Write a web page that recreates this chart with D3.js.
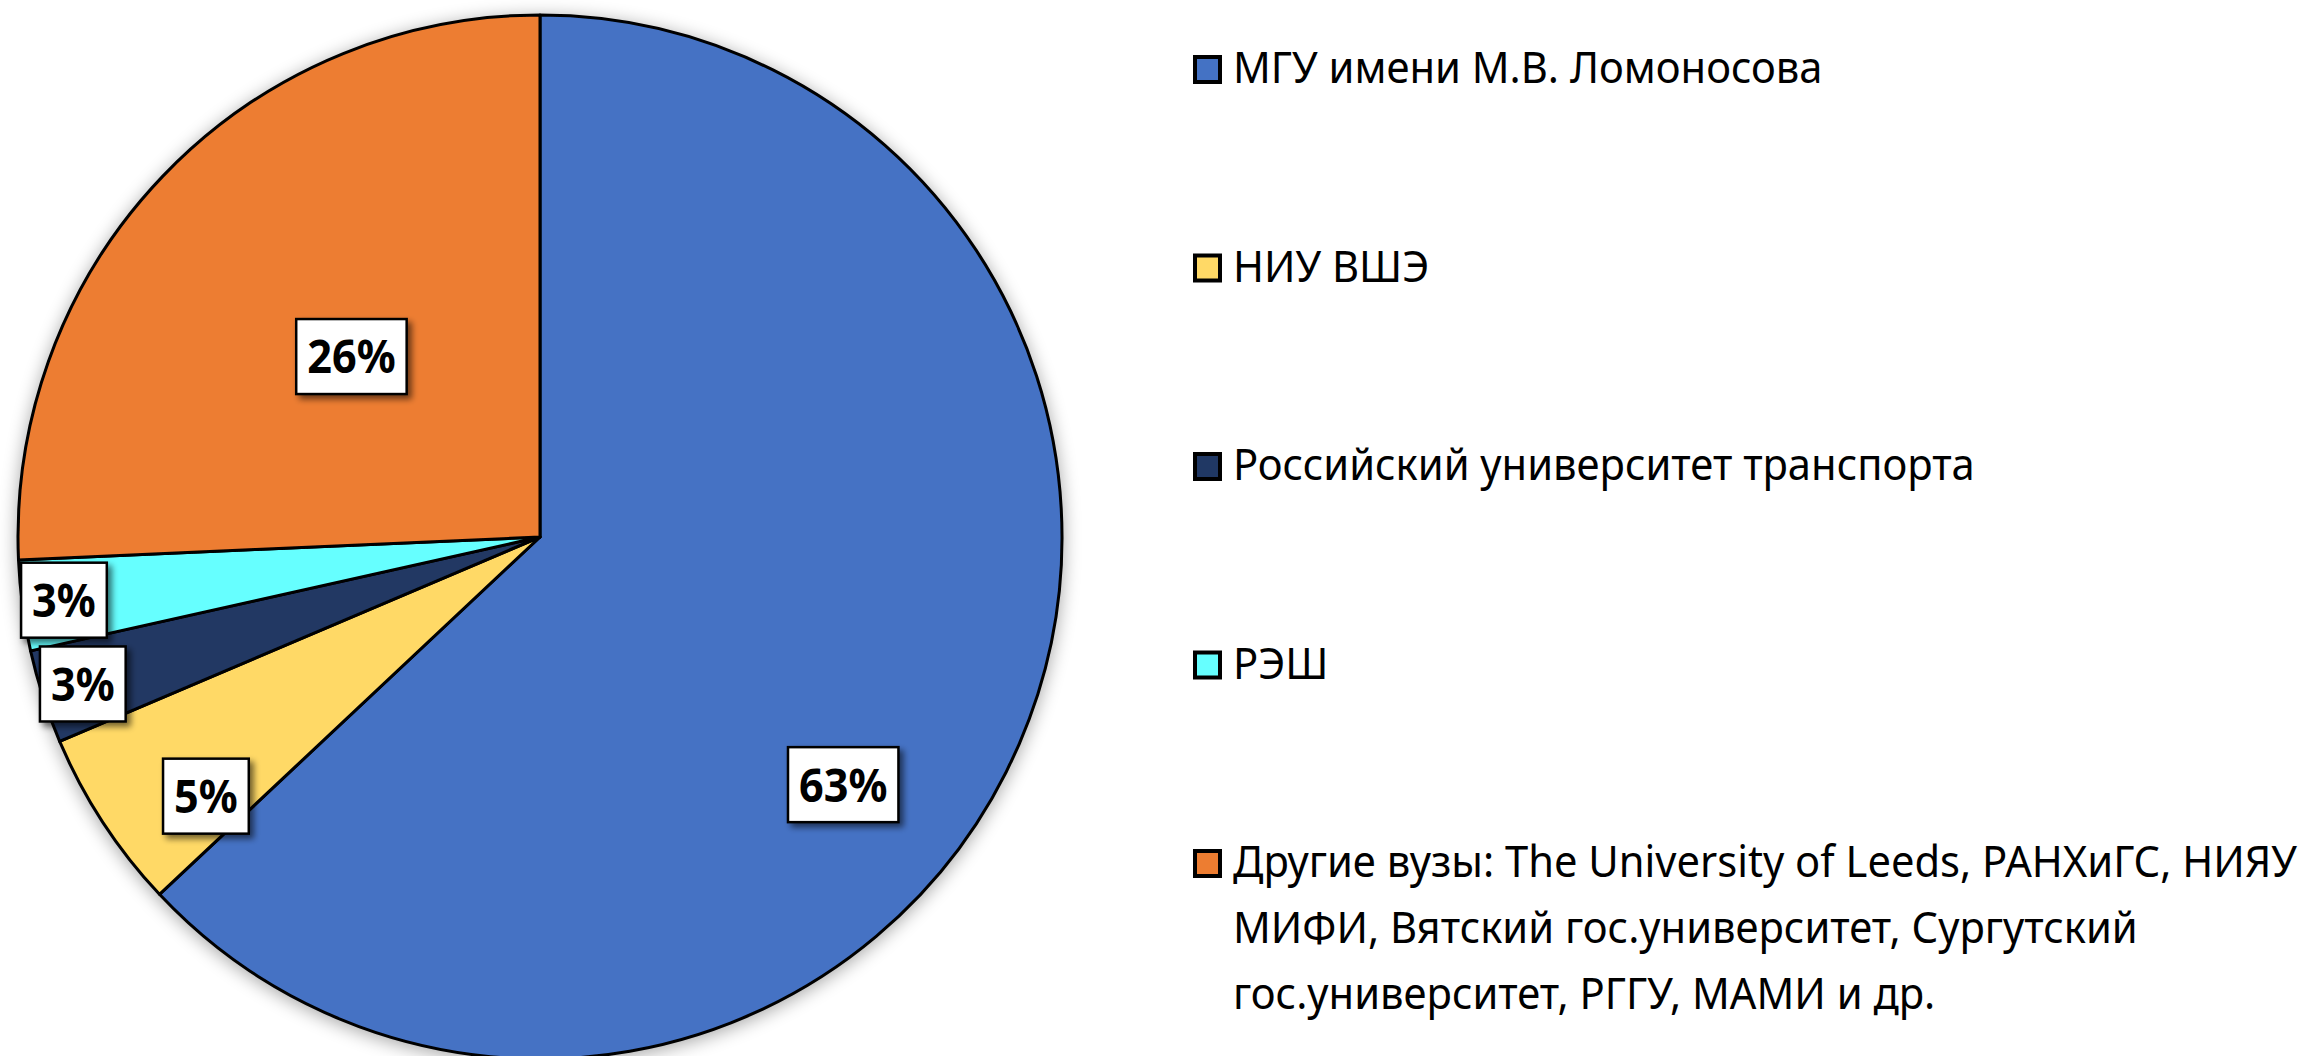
<!DOCTYPE html>
<html>
<head>
<meta charset="utf-8">
<script src="https://cdn.jsdelivr.net/npm/d3@7"></script>
<style>
  body { margin: 0; background: #fff; }
  svg { display: block; }
</style>
</head>
<body>
<div></div>
<script>
var width = 2300;
var height = 1056;

// slice data, clockwise from 12 o'clock
var names = ["МГУ имени М.В. Ломоносова",
             "НИУ ВШЭ",
             "Российский университет транспорта",
             "РЭШ",
             "Другие вузы: The University of Leeds, РАНХиГС, НИЯУ МИФИ, Вятский гос.университет, Сургутский гос.университет, РГГУ, МАМИ и др."];
var values = [63, 5.6, 2.9, 2.8, 25.7];
var labels = ["63%", "5%", "3%", "3%", "26%"];
var colors = ["#4472C4", "#FFD966", "#203864", "#66FFFF", "#ED7D31"];

// legend lines (last entry wraps)
var legendLines = [
  ["МГУ имени М.В. Ломоносова"],
  ["НИУ ВШЭ"],
  ["Российский университет транспорта"],
  ["РЭШ"],
  ["Другие вузы: The University of Leeds, РАНХиГС, НИЯУ",
   "МИФИ, Вятский гос.университет, Сургутский",
   "гос.университет, РГГУ, МАМИ и др."]
];

// label placement (fraction of radius, angle shift in turns) - excel "best fit"
var labelRadius = [0.75, 0.81, 0.92, 0.92, 0.5];
var labelShift = [0.044, -0.013, 0, 0, 0];

var cx = 540, cy = 537, radius = 522;
var fontFam = "'Noto Sans', 'Open Sans', sans-serif";

var svg = d3.select("div")
  .append("svg")
  .attr("width", width)
  .attr("height", height);

var defs = svg.append("defs");
var f1 = defs.append("filter").attr("id", "pieShadow")
  .attr("x", "-10%").attr("y", "-10%").attr("width", "120%").attr("height", "120%");
f1.append("feGaussianBlur").attr("in", "SourceAlpha").attr("stdDeviation", 9).attr("result", "b");
f1.append("feOffset").attr("in", "b").attr("dx", 0).attr("dy", 3).attr("result", "o");
f1.append("feComponentTransfer").attr("in", "o").attr("result", "s")
  .append("feFuncA").attr("type", "linear").attr("slope", 0.35);
var m1 = f1.append("feMerge");
m1.append("feMergeNode").attr("in", "s");
m1.append("feMergeNode").attr("in", "SourceGraphic");

var f2 = defs.append("filter").attr("id", "boxShadow")
  .attr("x", "-20%").attr("y", "-20%").attr("width", "150%").attr("height", "150%");
f2.append("feGaussianBlur").attr("in", "SourceAlpha").attr("stdDeviation", 3).attr("result", "b");
f2.append("feOffset").attr("in", "b").attr("dx", 4).attr("dy", 4).attr("result", "o");
f2.append("feComponentTransfer").attr("in", "o").attr("result", "s")
  .append("feFuncA").attr("type", "linear").attr("slope", 0.55);
var m2 = f2.append("feMerge");
m2.append("feMergeNode").attr("in", "s");
m2.append("feMergeNode").attr("in", "SourceGraphic");

var pie = d3.pie().sort(null).value(function(d) { return d; });
var arcs = pie(values);

var arc = d3.arc().innerRadius(0).outerRadius(radius);

var g = svg.append("g")
  .attr("transform", "translate(" + cx + "," + cy + ")");

var pieG = g.append("g").attr("filter", "url(#pieShadow)");
pieG.selectAll("path")
  .data(arcs)
  .enter().append("path")
  .attr("d", arc)
  .attr("fill", function(d, i) { return colors[i]; })
  .attr("stroke", "#000")
  .attr("stroke-width", 3)
  .attr("stroke-linejoin", "round");

// data labels
var lab = g.selectAll("g.lab")
  .data(arcs)
  .enter().append("g")
  .attr("class", "lab")
  .attr("transform", function(d, i) {
    var a = (d.startAngle + d.endAngle) / 2 + labelShift[i] * 2 * Math.PI;
    var r = radius * labelRadius[i];
    return "translate(" + (Math.sin(a) * r) + "," + (-Math.cos(a) * r) + ")";
  });

lab.each(function(d, i) {
  var sel = d3.select(this);
  var rect = sel.append("rect")
    .attr("fill", "#fff")
    .attr("stroke", "#000")
    .attr("stroke-width", 2.5)
    .attr("filter", "url(#boxShadow)");
  var t = sel.append("text")
    .attr("text-anchor", "middle")
    .attr("dy", "0.36em")
    .style("font-family", fontFam)
    .style("font-weight", "bold")
    .style("font-size", "47px")
    .attr("transform", "scale(0.92,1)")
    .text(labels[i]);
  var w = t.node().getComputedTextLength() * 0.92;
  var bw = w + 22, bh = 75;
  rect.attr("x", -bw / 2).attr("y", -bh / 2).attr("width", bw).attr("height", bh);
});

// legend
var legX = 1193, legY = 83, legStep = 198.5, lineStep = 66;
var leg = svg.append("g");
var items = leg.selectAll("g")
  .data(legendLines)
  .enter().append("g")
  .attr("transform", function(d, i) { return "translate(" + legX + "," + (legY + i * legStep) + ")"; });

items.append("rect")
  .attr("x", 2)
  .attr("y", -26)
  .attr("width", 25)
  .attr("height", 25)
  .attr("fill", function(d, i) { return colors[i]; })
  .attr("stroke", "#000")
  .attr("stroke-width", 4);

items.each(function(lines) {
  var sel = d3.select(this);
  lines.forEach(function(line, j) {
    sel.append("text")
      .attr("transform", "translate(40," + (j * lineStep) + ") scale(0.97,1)")
      .style("font-family", fontFam)
      .style("font-size", "43px")
      .attr("fill", "#000")
      .text(line);
  });
});
</script>
</body>
</html>
